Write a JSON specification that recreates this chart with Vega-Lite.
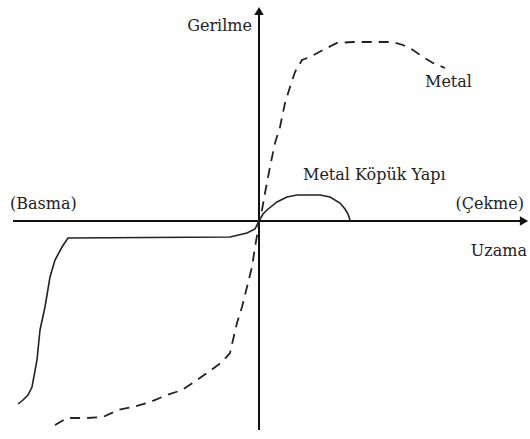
{
  "$schema": "https://vega.github.io/schema/vega-lite/v6.json",
  "width": 530,
  "height": 439,
  "padding": 0,
  "autosize": {"type": "fit", "contains": "padding"},
  "background": "white",
  "config": {"view": {"stroke": null}},
  "datasets": {
    "axes": [
      {"x": -246, "y": 0, "x2": 262, "y2": 0},
      {"x": 0, "y": -209, "x2": 0, "y2": 208}
    ],
    "arrowUp": [
      {"x": 0, "y": 210}
    ],
    "arrowRight": [
      {"x": 265, "y": 0}
    ],
    "metal": [
      {"o": 1, "x": -204, "y": -204},
      {"o": 2, "x": -192, "y": -197},
      {"o": 3, "x": -172, "y": -197},
      {"o": 4, "x": -156, "y": -196},
      {"o": 5, "x": -141, "y": -189},
      {"o": 6, "x": -126, "y": -186},
      {"o": 7, "x": -109, "y": -181},
      {"o": 8, "x": -92, "y": -174},
      {"o": 9, "x": -77, "y": -169},
      {"o": 10, "x": -62, "y": -159},
      {"o": 11, "x": -52, "y": -152},
      {"o": 12, "x": -37, "y": -141},
      {"o": 13, "x": -29, "y": -132},
      {"o": 14, "x": -26, "y": -119},
      {"o": 15, "x": -22, "y": -102},
      {"o": 16, "x": -17, "y": -86},
      {"o": 17, "x": -12, "y": -66},
      {"o": 18, "x": -7, "y": -46},
      {"o": 19, "x": -4, "y": -26},
      {"o": 20, "x": -1, "y": -9},
      {"o": 21, "x": 0, "y": 0},
      {"o": 22, "x": 3, "y": 11},
      {"o": 23, "x": 6, "y": 28},
      {"o": 24, "x": 11, "y": 54},
      {"o": 25, "x": 16, "y": 78},
      {"o": 26, "x": 21, "y": 94},
      {"o": 27, "x": 26, "y": 118},
      {"o": 28, "x": 31, "y": 134},
      {"o": 29, "x": 36, "y": 149},
      {"o": 30, "x": 43, "y": 161},
      {"o": 31, "x": 51, "y": 164},
      {"o": 32, "x": 64, "y": 171},
      {"o": 33, "x": 78, "y": 178},
      {"o": 34, "x": 94, "y": 179},
      {"o": 35, "x": 114, "y": 179},
      {"o": 36, "x": 134, "y": 179},
      {"o": 37, "x": 144, "y": 176},
      {"o": 38, "x": 154, "y": 171},
      {"o": 39, "x": 164, "y": 164},
      {"o": 40, "x": 174, "y": 158},
      {"o": 41, "x": 186, "y": 153}
    ],
    "foam": [
      {"o": 1, "x": -241, "y": -183},
      {"o": 2, "x": -236, "y": -179},
      {"o": 3, "x": -231, "y": -174},
      {"o": 4, "x": -227, "y": -166},
      {"o": 5, "x": -222, "y": -139},
      {"o": 6, "x": -219, "y": -109},
      {"o": 7, "x": -214, "y": -86},
      {"o": 8, "x": -209, "y": -56},
      {"o": 9, "x": -204, "y": -39},
      {"o": 10, "x": -197, "y": -26},
      {"o": 11, "x": -191, "y": -17},
      {"o": 12, "x": -29, "y": -16},
      {"o": 13, "x": -12, "y": -12},
      {"o": 14, "x": -4, "y": -8},
      {"o": 15, "x": 0, "y": 0},
      {"o": 16, "x": 4, "y": 7},
      {"o": 17, "x": 8, "y": 11},
      {"o": 18, "x": 18, "y": 19},
      {"o": 19, "x": 28, "y": 24},
      {"o": 20, "x": 38, "y": 26},
      {"o": 21, "x": 61, "y": 26},
      {"o": 22, "x": 71, "y": 24},
      {"o": 23, "x": 81, "y": 18},
      {"o": 24, "x": 86, "y": 12},
      {"o": 25, "x": 89, "y": 7},
      {"o": 26, "x": 91, "y": 1}
    ],
    "labelsLeft": [
      {"x": 166, "y": 134, "t": "Metal"},
      {"x": 44, "y": 41, "t": "Metal Köpük Yapı"},
      {"x": -249, "y": 12, "t": "(Basma)"}
    ],
    "labelsRight": [
      {"x": -7, "y": 190, "t": "Gerilme"},
      {"x": 265, "y": 12, "t": "(Çekme)"},
      {"x": 268, "y": -35, "t": "Uzama"}
    ]
  },
  "encoding": {
    "x": {"type": "quantitative", "scale": {"domain": [-259, 271], "nice": false, "zero": false}, "axis": null},
    "y": {"type": "quantitative", "scale": {"domain": [-218, 221], "nice": false, "zero": false}, "axis": null}
  },
  "layer": [
    {
      "data": {"name": "axes"},
      "mark": {"type": "rule", "color": "#111", "strokeWidth": 2},
      "encoding": {
        "x": {"field": "x", "type": "quantitative"},
        "y": {"field": "y", "type": "quantitative"},
        "x2": {"field": "x2"},
        "y2": {"field": "y2"}
      }
    },
    {
      "data": {"name": "arrowUp"},
      "mark": {"type": "point", "shape": "triangle-up", "filled": true, "color": "#111", "size": 90, "opacity": 1},
      "encoding": {
        "x": {"field": "x", "type": "quantitative"},
        "y": {"field": "y", "type": "quantitative"}
      }
    },
    {
      "data": {"name": "arrowRight"},
      "mark": {"type": "point", "shape": "triangle-right", "filled": true, "color": "#111", "size": 90, "opacity": 1},
      "encoding": {
        "x": {"field": "x", "type": "quantitative"},
        "y": {"field": "y", "type": "quantitative"}
      }
    },
    {
      "data": {"name": "metal"},
      "mark": {"type": "line", "color": "#222", "strokeWidth": 1.8, "strokeDash": [10, 7]},
      "encoding": {
        "x": {"field": "x", "type": "quantitative"},
        "y": {"field": "y", "type": "quantitative"},
        "order": {"field": "o", "type": "quantitative"}
      }
    },
    {
      "data": {"name": "foam"},
      "mark": {"type": "line", "color": "#222", "strokeWidth": 1.6},
      "encoding": {
        "x": {"field": "x", "type": "quantitative"},
        "y": {"field": "y", "type": "quantitative"},
        "order": {"field": "o", "type": "quantitative"}
      }
    },
    {
      "data": {"name": "labelsLeft"},
      "mark": {"type": "text", "font": "DejaVu Serif", "fontSize": 16, "color": "#222", "align": "left", "baseline": "alphabetic"},
      "encoding": {
        "x": {"field": "x", "type": "quantitative"},
        "y": {"field": "y", "type": "quantitative"},
        "text": {"field": "t", "type": "nominal"}
      }
    },
    {
      "data": {"name": "labelsRight"},
      "mark": {"type": "text", "font": "DejaVu Serif", "fontSize": 16, "color": "#222", "align": "right", "baseline": "alphabetic"},
      "encoding": {
        "x": {"field": "x", "type": "quantitative"},
        "y": {"field": "y", "type": "quantitative"},
        "text": {"field": "t", "type": "nominal"}
      }
    }
  ]
}
